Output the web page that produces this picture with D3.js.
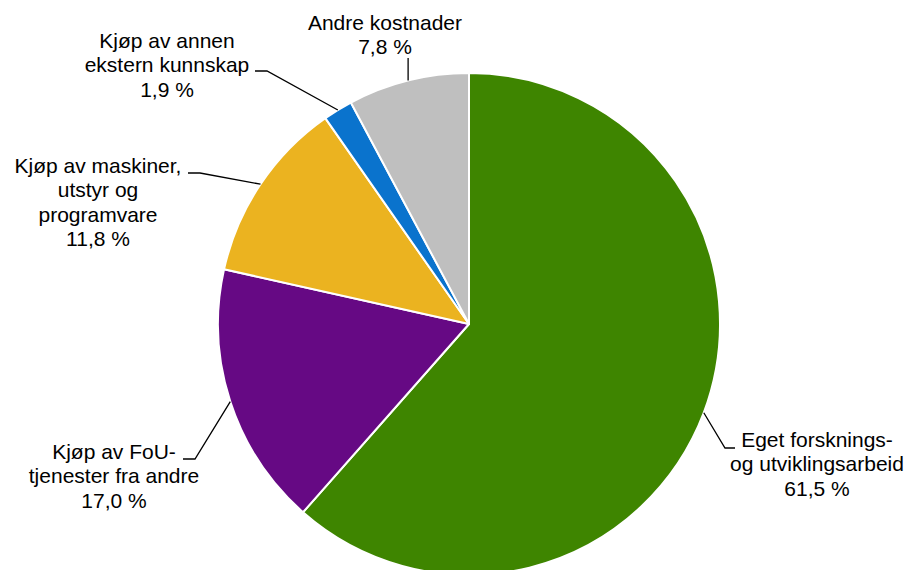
<!DOCTYPE html>
<html>
<head>
<meta charset="utf-8">
<script src="https://cdn.jsdelivr.net/npm/d3@7"></script>
<style>
  body { margin: 0; background: #fff; }
  svg { display: block; font-family: "Liberation Sans", Arial, sans-serif; }
</style>
</head>
<body>
<svg id="chart"></svg>
<script>
// data, clockwise from 12 o'clock
const categories = [
    ["Eget forsknings-", "og utviklingsarbeid"],
    ["Kjøp av FoU-", "tjenester fra andre"],
    ["Kjøp av maskiner,", "utstyr og", "programvare"],
    ["Kjøp av annen", "ekstern kunnskap"],
    ["Andre kostnader"]
];
const values = [61.5, 17.0, 11.8, 1.9, 7.8];
const valueLabels = ["61,5 %", "17,0 %", "11,8 %", "1,9 %", "7,8 %"];
const colors = ["#3e8500", "#660984", "#ebb320", "#0a73cd", "#bfbfbf"];

// label layout: text centre, first baseline, elbow and end of leader line
const labelLayout = [
    { x: 817, y: 447, elbow: [725, 448], end: [735, 448] },
    { x: 114, y: 459, elbow: [195, 459], end: [183, 459] },
    { x: 98,  y: 173, elbow: [200, 173], end: [188, 173] },
    { x: 167, y: 48,  elbow: [267, 71],  end: [255, 71] },
    { x: 385, y: 30,  elbow: null,       end: [null, 58] }
];

const width = 906, height = 570;
const cx = 469, cy = 324, radius = 251;
const lineHeight = 24.4;

const svg = d3.select("#chart")
    .attr("width", width)
    .attr("height", height);

const g = svg.append("g")
    .attr("transform", `translate(${cx},${cy})`);

const pie = d3.pie().sort(null).value(d => d);
const arcs = pie(values);

const arc = d3.arc().innerRadius(0).outerRadius(radius);

// slices
g.selectAll("path.slice")
    .data(arcs)
    .enter()
    .append("path")
        .attr("class", "slice")
        .attr("d", arc)
        .attr("fill", (d, i) => colors[i])
        .attr("stroke", "#fff")
        .attr("stroke-width", 2)
        .attr("stroke-linejoin", "round");

// leader lines
arcs.forEach((d, i) => {
    const a = (d.startAngle + d.endAngle) / 2;
    const px = cx + radius * Math.sin(a);
    const py = cy - radius * Math.cos(a);
    const lay = labelLayout[i];
    let pts;
    if (lay.elbow) {
        pts = [[px, py], lay.elbow, lay.end];
    } else {
        pts = [[px, py], [px, lay.end[1]]];
    }
    svg.append("path")
        .attr("d", d3.line()(pts))
        .attr("fill", "none")
        .attr("stroke", "#000")
        .attr("stroke-width", 1.3);
});

// labels
categories.forEach((lines, i) => {
    const lay = labelLayout[i];
    const t = svg.append("text")
        .attr("text-anchor", "middle")
        .attr("font-size", "21px")
        .attr("fill", "#000");
    lines.concat([valueLabels[i]]).forEach((s, j) => {
        t.append("tspan")
            .attr("x", lay.x)
            .attr("y", lay.y + j * lineHeight)
            .text(s);
    });
});
</script>
</body>
</html>
